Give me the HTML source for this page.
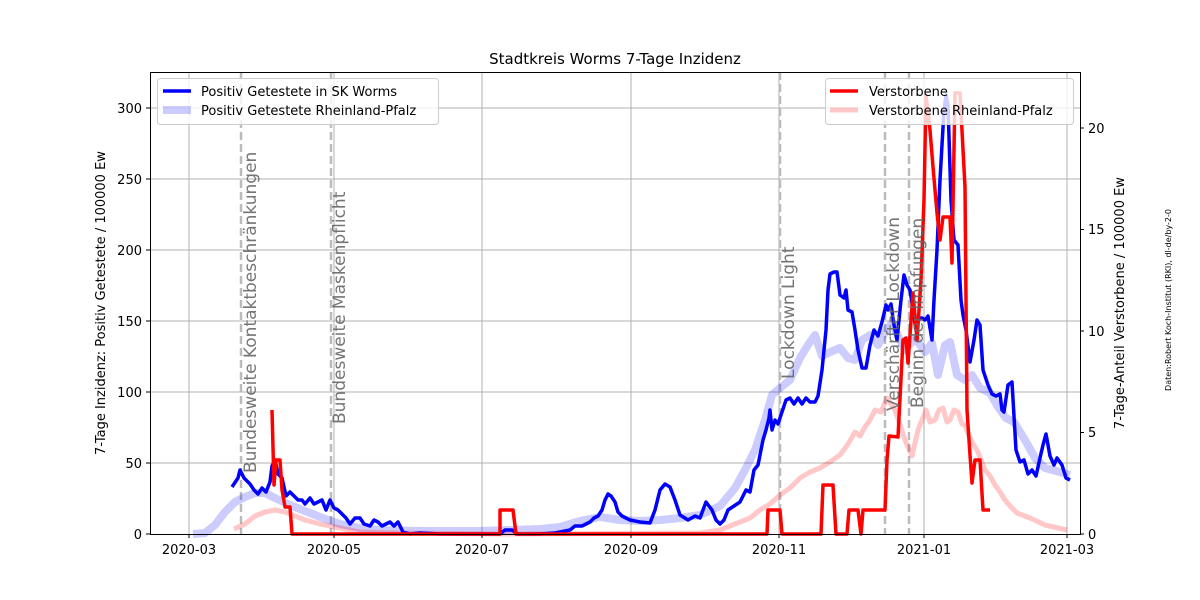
<!DOCTYPE html>
<html><head><meta charset="utf-8"><style>body{margin:0;background:#fff}svg{display:block;font-family:"DejaVu Sans","Liberation Sans",sans-serif}</style></head><body>
<svg width="1200" height="600" viewBox="0 0 1200 600" xmlns="http://www.w3.org/2000/svg">
<rect width="1200" height="600" fill="#fff"/>
<text x="615" y="64" font-size="15" text-anchor="middle">Stadtkreis Worms 7-Tage Inzidenz</text>
<g stroke="#b0b0b0" stroke-width="1">
<line x1="189" y1="72" x2="189" y2="534"/><line x1="334" y1="72" x2="334" y2="534"/><line x1="482" y1="72" x2="482" y2="534"/><line x1="631" y1="72" x2="631" y2="534"/><line x1="779" y1="72" x2="779" y2="534"/><line x1="924" y1="72" x2="924" y2="534"/><line x1="1067" y1="72" x2="1067" y2="534"/>
<line x1="150" y1="463" x2="1080" y2="463"/><line x1="150" y1="392" x2="1080" y2="392"/><line x1="150" y1="321" x2="1080" y2="321"/><line x1="150" y1="250" x2="1080" y2="250"/><line x1="150" y1="179" x2="1080" y2="179"/><line x1="150" y1="108" x2="1080" y2="108"/>
</g>
<g stroke="#bbb" stroke-width="2.5" stroke-dasharray="8,4">
<line x1="241" y1="72" x2="241" y2="534"/><line x1="331" y1="72" x2="331" y2="534"/><line x1="780" y1="72" x2="780" y2="534"/><line x1="885" y1="72" x2="885" y2="534"/><line x1="909" y1="72" x2="909" y2="534"/>
</g>
<polyline fill="none" stroke="rgba(0,0,255,0.2)" stroke-width="8" stroke-linejoin="round" points="193,534 205,533 215,525 225,512 235,502 245,497 255,493 265,493 275,498 290,505 305,511 320,517 340,524 360,528 380,530 420,531 480,531 540,529 560,527 580,521 600,517 620,520 640,521 660,520 680,518 700,515 720,506 735,488 745,470 755,450 765,420 772,395 780,388 790,380 800,358 808,345 815,335 822,356 830,352 840,348 848,358 855,360 862,340 870,335 878,345 886,330 892,323 898,336 905,350 915,338 925,352 932,343 938,375 945,345 950,342 957,375 965,380 972,375 980,388 990,393 998,407 1006,418 1014,422 1025,440 1035,458 1045,468 1060,472 1070,475"/>
<polyline fill="none" stroke="rgba(255,0,0,0.22)" stroke-width="5" stroke-linejoin="round" points="234,529 245,524 255,516 265,512 275,510 285,512 295,516 305,520 320,524 340,528 360,532 400,533 500,534 700,533 720,530 740,522 750,518 760,510 770,504 780,495 790,488 800,478 810,472 820,468 830,462 840,455 848,444 855,432 860,436 865,427 870,420 875,410 881,412 887,398 891,404 895,410 900,425 905,440 912,456 918,430 922,420 926,410 930,422 935,420 939,410 943,408 947,422 950,420 954,410 958,412 962,424 965,425 969,436 972,442 978,452 985,470 990,476 995,485 1000,492 1005,500 1010,506 1017,513 1030,518 1045,525 1067,530"/>
<polyline fill="none" stroke="#0000ff" stroke-width="3.5" stroke-linejoin="round" points="232,487 238,478 240,470 244,478 250,484 254,490 258,494 262,488 266,492 270,482 272,466 275,460 278,474 282,478 286,496 290,492 294,496 298,500 302,500 305,504 310,498 314,504 318,502 322,500 326,510 330,500 334,508 338,510 342,514 346,518 350,524 355,518 360,518 364,524 370,526 374,520 378,522 382,526 386,524 390,522 394,526 398,522 403,532 410,534 420,533 440,534 460,534 480,534 500,534 505,530 512,530 518,534 540,534 555,533 570,530 575,526 582,526 586,524 590,522 594,518 598,516 602,510 605,500 608,494 611,496 615,502 618,512 622,516 630,520 640,522 650,523 655,510 660,490 665,484 670,487 675,500 680,515 688,520 695,516 700,518 706,502 712,510 716,520 720,524 724,520 728,510 734,506 740,502 746,490 750,492 754,470 758,465 760,455 763,440 766,430 769,418 770,410 772,430 775,420 778,424 782,412 786,400 790,398 794,404 798,398 802,404 806,398 810,402 815,402 818,396 822,370 826,330 828,290 830,274 834,272 837,272 840,295 844,298 846,290 848,310 852,312 855,330 858,350 862,368 866,368 870,345 874,330 878,336 882,322 886,305 888,310 891,304 894,325 897,340 901,300 904,275 907,285 910,290 913,310 916,330 919,318 922,318 925,320 928,316 932,340 934,300 937,250 940,180 944,110 946,95 948,105 951,200 954,240 958,245 961,300 963,315 966,330 970,362 974,340 977,320 980,325 983,370 988,385 992,394 996,396 1000,394 1002,410 1004,412 1008,385 1012,382 1016,450 1020,462 1024,460 1028,474 1032,470 1036,476 1040,458 1043,445 1046,434 1050,456 1054,465 1057,458 1062,465 1066,478 1070,480"/>
<polyline fill="none" stroke="#ff0000" stroke-width="3.5" stroke-linejoin="round" points="272,410 274,485 276,460 280,460 282,490 285,507 290,507 292,534 500,534 500,510 513,510 516,534 767,534 768,510 780,510 782,534 821,534 823,485 833,485 836,534 847,534 849,510 858,510 861,534 863,510 885,510 887,460 889,436 898,437 903,340 906,338 908,363 913,293 917,340 921,280 924,200 926,95 930,130 933,167 937,213 940,240 943,217 950,217 952,263 955,93 960,93 965,187 967,410 970,455 972,483 975,460 980,460 983,510 990,510"/>
<g font-size="17" fill="#666" opacity="0.9">
<text transform="translate(256,473) rotate(-90)">Bundesweite Kontaktbeschränkungen</text>
<text transform="translate(345,424) rotate(-90)">Bundesweite Maskenpflicht</text>
<text transform="translate(794,379) rotate(-90)">Lockdown Light</text>
<text transform="translate(899,411) rotate(-90)">Verschärfter Lockdown</text>
<text transform="translate(923,408) rotate(-90)">Beginn der Impfungen</text>
</g>
<rect x="150.5" y="72.5" width="930" height="462" fill="none" stroke="#000" stroke-width="1"/>
<g stroke="#000" stroke-width="1">
<line x1="189" y1="534" x2="189" y2="538"/><line x1="334" y1="534" x2="334" y2="538"/><line x1="482" y1="534" x2="482" y2="538"/><line x1="631" y1="534" x2="631" y2="538"/><line x1="779" y1="534" x2="779" y2="538"/><line x1="924" y1="534" x2="924" y2="538"/><line x1="1067" y1="534" x2="1067" y2="538"/>
<line x1="146" y1="534" x2="150" y2="534"/><line x1="146" y1="463" x2="150" y2="463"/><line x1="146" y1="392" x2="150" y2="392"/><line x1="146" y1="321" x2="150" y2="321"/><line x1="146" y1="250" x2="150" y2="250"/><line x1="146" y1="179" x2="150" y2="179"/><line x1="146" y1="108" x2="150" y2="108"/>
<line x1="1080" y1="534" x2="1084" y2="534"/><line x1="1080" y1="432.5" x2="1084" y2="432.5"/><line x1="1080" y1="331" x2="1084" y2="331"/><line x1="1080" y1="229.5" x2="1084" y2="229.5"/><line x1="1080" y1="128" x2="1084" y2="128"/>
</g>
<g font-size="13" text-anchor="middle">
<text x="189" y="554">2020-03</text><text x="334" y="554">2020-05</text><text x="482" y="554">2020-07</text><text x="631" y="554">2020-09</text><text x="779" y="554">2020-11</text><text x="924" y="554">2021-01</text><text x="1067" y="554">2021-03</text>
</g>
<g font-size="13" text-anchor="end">
<text x="142" y="539">0</text><text x="142" y="468">50</text><text x="142" y="397">100</text><text x="142" y="326">150</text><text x="142" y="255">200</text><text x="142" y="184">250</text><text x="142" y="113">300</text>
</g>
<g font-size="13">
<text x="1088" y="539">0</text><text x="1088" y="437">5</text><text x="1088" y="336">10</text><text x="1088" y="234">15</text><text x="1088" y="133">20</text>
</g>
<text transform="translate(105,303) rotate(-90)" font-size="13" text-anchor="middle">7-Tage Inzidenz: Positiv Getestete / 100000 Ew</text>
<text transform="translate(1124,303) rotate(-90)" font-size="13" text-anchor="middle">7-Tage-Anteil Verstorbene / 100000 Ew</text>
<text transform="translate(1171,300) rotate(-90)" font-size="8" text-anchor="middle">Daten:Robert Koch-Institut (RKI), dl-de/by-2-0</text>
<rect x="157.5" y="78.5" width="281" height="46" rx="3" fill="rgba(255,255,255,0.8)" stroke="#ccc"/>
<line x1="163" y1="91" x2="191" y2="91" stroke="#0000ff" stroke-width="3.5"/>
<line x1="163" y1="110" x2="191" y2="110" stroke="rgba(0,0,255,0.2)" stroke-width="8"/>
<text x="201" y="96" font-size="13">Positiv Getestete in SK Worms</text>
<text x="201" y="115" font-size="13">Positiv Getestete Rheinland-Pfalz</text>
<rect x="825.5" y="78.5" width="248" height="46" rx="3" fill="rgba(255,255,255,0.8)" stroke="#ccc"/>
<line x1="830" y1="91" x2="858" y2="91" stroke="#ff0000" stroke-width="3.5"/>
<line x1="830" y1="110" x2="858" y2="110" stroke="rgba(255,0,0,0.22)" stroke-width="5"/>
<text x="869" y="96" font-size="13">Verstorbene</text>
<text x="869" y="115" font-size="13">Verstorbene Rheinland-Pfalz</text>
</svg>
</body></html>
